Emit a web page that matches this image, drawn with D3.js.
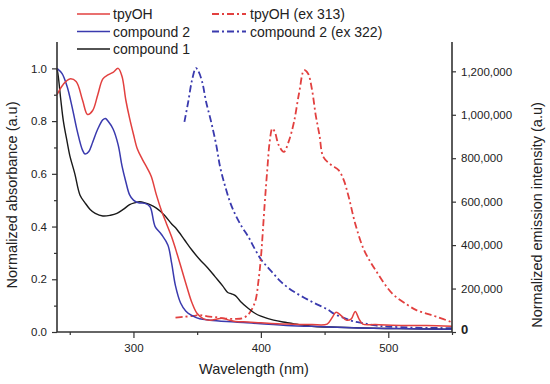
<!DOCTYPE html>
<html><head><meta charset="utf-8">
<script src="https://cdn.jsdelivr.net/npm/d3@7"></script>
<style>body{margin:0;background:#fff}svg{display:block;font-family:Arial,"Liberation Sans",sans-serif}</style>
</head><body>
<svg id="c" width="550" height="384"></svg>
<script>
// ---- data ----
const tpyOHWl  = [240,245,250,255,260,264,268,272,276,280,284,288,291,294,297,300,303,307,311,314,318,322,326,330,334,338,342,346,350,355,360,370,375,380,390,400,420,440,452,456,459,463,467,471,474,477,480,490,510,530,550];
const tpyOHAbs = [0.90,0.94,0.96,0.95,0.88,0.825,0.84,0.90,0.96,0.975,0.985,1.0,0.97,0.88,0.81,0.75,0.695,0.655,0.62,0.59,0.52,0.46,0.41,0.36,0.30,0.235,0.17,0.11,0.07,0.05,0.045,0.052,0.045,0.04,0.038,0.035,0.03,0.028,0.03,0.055,0.075,0.062,0.045,0.05,0.078,0.05,0.03,0.028,0.025,0.025,0.022];

const comp2Wl  = [240,244,248,252,256,260,262,265,268,272,276,278,280,284,288,291,294,297,300,304,309,313,317,322,327,330,333,337,341,345,352,360,380,420,450,480,510,550];
const comp2Abs = [1.0,0.98,0.93,0.85,0.76,0.69,0.675,0.685,0.72,0.77,0.805,0.81,0.80,0.77,0.71,0.63,0.57,0.52,0.50,0.49,0.488,0.475,0.40,0.37,0.33,0.26,0.175,0.11,0.08,0.065,0.05,0.045,0.038,0.025,0.02,0.015,0.013,0.01];

const comp1Wl  = [240,241,243,245,248,250,254,258,262,266,270,276,282,287,292,297,301,305,309,313,318,324,330,334,340,346,352,358,364,370,374,377,380,384,390,395,400,410,420,430,442,460,480,500,520,550];
const comp1Abs = [1.0,0.97,0.88,0.80,0.72,0.67,0.60,0.52,0.49,0.465,0.45,0.44,0.443,0.45,0.465,0.483,0.49,0.494,0.49,0.483,0.47,0.445,0.41,0.39,0.35,0.31,0.275,0.245,0.21,0.175,0.15,0.145,0.138,0.116,0.09,0.072,0.06,0.045,0.036,0.028,0.021,0.018,0.015,0.013,0.012,0.01];

const emTpyWl  = [333,340,347,352,358,365,372,380,386,390,393,396,398,400,403,405,407,409,411,414,418,422,426,430,434,437,440,443,446,449,455,461,465,469,474,481,490,503,515,522,530,538,549];
const emTpyInt = [66000,70000,74000,78000,72000,68000,62000,60000,64000,80000,105000,150000,230000,340000,590000,745000,880000,937000,920000,860000,829000,880000,967000,1100000,1205000,1190000,1120000,1000000,906000,806000,770000,745000,700000,620000,500000,377000,285000,178000,125000,101000,85000,70000,47000];

const emC2Wl  = [340,343,346,349,351,354,357,361,365,368,372,376,380,385,390,395,400,405,410,415,420,426,434,442,452,458,465,472,481,490,500,520,550];
const emC2Int = [967000,1060000,1160000,1215000,1200000,1150000,1060000,967000,860000,760000,670000,595000,540000,485000,440000,385000,335000,300000,268000,235000,210000,185000,158000,133000,105000,82000,65000,50000,40000,30000,25000,20000,18000];

const xTicks = [300,400,500];
const xMinorTicks = [250,350,450,550];
const yLeftTicks = [0,0.2,0.4,0.6,0.8,1.0];
const yLeftMinor = [0.1,0.3,0.5,0.7,0.9];
const yRightTicks = [0,200000,400000,600000,800000,1000000,1200000];

const legendLeft = ["tpyOH","compound 2","compound 1"];
const legendRight = ["tpyOH (ex 313)","compound 2 (ex 322)"];

// ---- drawing ----
const RED = "#e2403f", BLUE = "#3a3aae", BLACK = "#1a1a1a", AX = "#333";
const DASH = "7,3,2,3";
const svg = d3.select("#c");
const L = 57, R = 452, T = 42, B = 332;
const x = d3.scaleLinear().domain([240,550]).range([L,R]);
const yL = d3.scaleLinear().domain([0,1.1]).range([B,T]);
const yR = d3.scaleLinear().domain([0,1335000]).range([B,T]);

const zip = (a,b)=>a.map((v,i)=>[v,b[i]]);
const curve = d3.curveCatmullRom.alpha(0.5);
const lineL = d3.line().x(d=>x(d[0])).y(d=>yL(d[1])).curve(curve);
const lineR = d3.line().x(d=>x(d[0])).y(d=>yR(d[1])).curve(curve);

const plot = svg.append("g");
plot.append("path").attr("d",lineR(zip(emC2Wl,emC2Int))).attr("fill","none").attr("stroke",BLUE).attr("stroke-width",1.8).attr("stroke-dasharray",DASH);
plot.append("path").attr("d",lineR(zip(emTpyWl,emTpyInt))).attr("fill","none").attr("stroke",RED).attr("stroke-width",1.8).attr("stroke-dasharray",DASH);
plot.append("path").attr("d",lineL(zip(comp1Wl,comp1Abs))).attr("fill","none").attr("stroke",BLACK).attr("stroke-width",1.4);
plot.append("path").attr("d",lineL(zip(comp2Wl,comp2Abs))).attr("fill","none").attr("stroke",BLUE).attr("stroke-width",1.5);
plot.append("path").attr("d",lineL(zip(tpyOHWl,tpyOHAbs))).attr("fill","none").attr("stroke",RED).attr("stroke-width",1.5);

// x axis
const gx = svg.append("g").attr("transform",`translate(0,${B})`);
gx.call(d3.axisBottom(x).tickValues(xTicks).tickSize(6).tickPadding(6).tickFormat(d3.format("d")));
gx.append("g").call(d3.axisBottom(x).tickValues(xMinorTicks).tickSize(3).tickFormat(""));
// left axis
const gl = svg.append("g").attr("transform",`translate(${L},0)`);
gl.call(d3.axisLeft(yL).tickValues(yLeftTicks).tickSize(5).tickPadding(5).tickFormat(d3.format(".1f")));
gl.append("g").call(d3.axisLeft(yL).tickValues(yLeftMinor).tickSize(3).tickFormat(""));
// right axis
const gr = svg.append("g").attr("transform",`translate(${R},0)`);
gr.call(d3.axisRight(yR).tickValues(yRightTicks).tickSize(4).tickPadding(5).tickFormat(d3.format(",")));

[gx,gl,gr].forEach(g=>{
  g.selectAll("line").attr("stroke",AX).attr("stroke-width",1.2);
  g.selectAll("path.domain").remove();
  g.selectAll("text").attr("font-size",11.5).attr("fill","#222").attr("font-family","Arial, 'Liberation Sans', sans-serif");
});
// axis lines
svg.append("line").attr("x1",L).attr("x2",R).attr("y1",B).attr("y2",B).attr("stroke",AX).attr("stroke-width",1.6);
svg.append("line").attr("x1",L).attr("x2",L).attr("y1",T).attr("y2",B).attr("stroke",AX).attr("stroke-width",1.6);
svg.append("line").attr("x1",R).attr("x2",R).attr("y1",T).attr("y2",B).attr("stroke",AX).attr("stroke-width",1.6);
gr.selectAll(".tick text").filter(d=>d===0).attr("font-weight","bold").attr("font-size",13).attr("dy","0.1em");

// titles
svg.append("text").attr("x",254).attr("y",374).attr("text-anchor","middle").attr("font-size",14.5).attr("fill","#222").text("Wavelength (nm)");
svg.append("text").attr("transform","translate(17,195) rotate(-90)").attr("text-anchor","middle").attr("font-size",14.5).attr("fill","#222").text("Normalized absorbance (a.u)");
svg.append("text").attr("transform","translate(542,215) rotate(-90)").attr("text-anchor","middle").attr("font-size",14.5).attr("fill","#222").text("Normalized emission intensity (a.u)");

// legend
const leftColors = [RED,BLUE,BLACK];
legendLeft.forEach((t,i)=>{
  const yy = 14 + i*17.5;
  svg.append("line").attr("x1",77).attr("x2",110).attr("y1",yy).attr("y2",yy).attr("stroke",leftColors[i]).attr("stroke-width",1.6);
  svg.append("text").attr("x",113).attr("y",yy+5).attr("font-size",14).attr("fill","#222").text(t);
});
const rightColors = [RED,BLUE];
legendRight.forEach((t,i)=>{
  const yy = 14 + i*17.5;
  svg.append("line").attr("x1",212).attr("x2",246).attr("y1",yy).attr("y2",yy).attr("stroke",rightColors[i]).attr("stroke-width",1.8).attr("stroke-dasharray",DASH);
  svg.append("text").attr("x",250).attr("y",yy+5).attr("font-size",14).attr("fill","#222").text(t);
});
</script>
</body></html>
